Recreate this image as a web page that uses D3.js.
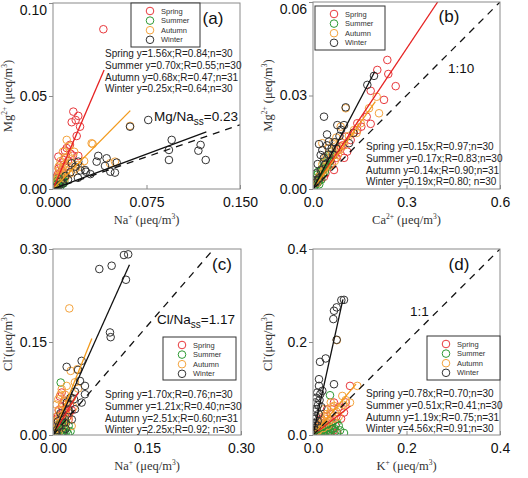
<!DOCTYPE html>
<html>
<head>
<meta charset="utf-8">
<script src="https://cdn.jsdelivr.net/npm/d3@7"></script>
<style>
  body { margin: 0; background: #fff; }
  svg { display: block; font-family: "Liberation Sans", Arial, sans-serif; }
</style>
</head>
<body>
<div id="chart"></div>
<script>
const seasons = ["Spring", "Summer", "Autumn", "Winter"];
const pointColors = ["#e8383c", "#2f9a35", "#f4a33c", "#333333"];
const lineColors = ["#e62222", "#2a8a2a", "#f29a1c", "#111111"];

// (a) Mg2+ vs Na+
const springA = [[0.0404,0.0859],[0.0163,0.0416],[0.0203,0.0393],[0.0182,0.0371],[0.0150,0.0359],[0.0217,0.0335],[0.0190,0.0285],[0.0136,0.0237],[0.0096,0.0206],[0.0110,0.0220],[0.0043,0.0174],[0.0083,0.0156],[0.0203,0.0178],[0.0060,0.0130],[0.0030,0.0066],[0.0070,0.0100],[0.0040,0.0080],[0.0120,0.0150],[0.0020,0.0040],[0.0050,0.0050],[0.0100,0.0120],[0.0015,0.0030],[0.0080,0.0090],[0.0035,0.0060],[0.0025,0.0020],[0.0160,0.0180],[0.0065,0.0075],[0.0010,0.0015],[0.0140,0.0190],[0.0045,0.0110]];
const summerA = [[0.0010,0.0010],[0.0020,0.0020],[0.0030,0.0015],[0.0040,0.0030],[0.0050,0.0025],[0.0015,0.0030],[0.0060,0.0040],[0.0025,0.0010],[0.0035,0.0045],[0.0070,0.0030],[0.0080,0.0050],[0.0045,0.0020],[0.0020,0.0035],[0.0055,0.0055],[0.0010,0.0020],[0.0030,0.0035],[0.0090,0.0040],[0.0065,0.0060],[0.0040,0.0012],[0.0015,0.0008],[0.0075,0.0065],[0.0050,0.0045],[0.0028,0.0025],[0.0085,0.0030],[0.0060,0.0015],[0.0018,0.0012],[0.0038,0.0055],[0.0095,0.0070],[0.0070,0.0045],[0.0012,0.0005]];
const autumnA = [[0.0110,0.0264],[0.0318,0.0242],[0.0310,0.0246],[0.0618,0.0339],[0.0457,0.0138],[0.0497,0.0147],[0.0080,0.0200],[0.0130,0.0230],[0.0060,0.0150],[0.0100,0.0170],[0.0150,0.0140],[0.0120,0.0120],[0.0180,0.0110],[0.0050,0.0100],[0.0070,0.0080],[0.0200,0.0130],[0.0090,0.0130],[0.0030,0.0050],[0.0160,0.0090],[0.0040,0.0070],[0.0110,0.0100],[0.0140,0.0160],[0.0020,0.0030],[0.0220,0.0120],[0.0060,0.0060],[0.0080,0.0110],[0.0250,0.0150],[0.0130,0.0080],[0.0045,0.0120],[0.0170,0.0200],[0.0095,0.0055]];
const winterA = [[0.0764,0.0371],[0.0618,0.0335],[0.0952,0.0264],[0.0930,0.0210],[0.0930,0.0156],[0.1166,0.0206],[0.1184,0.0237],[0.1225,0.0156],[0.0363,0.0178],[0.0350,0.0147],[0.0430,0.0165],[0.0417,0.0124],[0.0460,0.0093],[0.0497,0.0088],[0.0511,0.0142],[0.0257,0.0102],[0.0203,0.0147],[0.0150,0.0138],[0.0265,0.0093],[0.0200,0.0060],[0.0120,0.0050],[0.0180,0.0120],[0.0080,0.0030],[0.0100,0.0070],[0.0050,0.0020],[0.0300,0.0080],[0.0220,0.0100],[0.0030,0.0010],[0.0140,0.0090],[0.0060,0.0040]];
const slopesA = [1.56, 0.70, 0.68, 0.25];
const lineEndA = [0.041, 0.008, 0.062, 0.123];
const eqA = ["Spring y=1.56x;R=0.84;n=30", "Summer y=0.70x;R=0.55;n=30", "Autumn y=0.68x;R=0.47;n=31", "Winter y=0.25x;R=0.64;n=30"];
const xTicksA = [0, 0.075, 0.15], yTicksA = [0, 0.05, 0.10];

// (b) Mg2+ vs Ca2+
const springB = [[0.2385,0.0414],[0.2063,0.0382],[0.2416,0.0369],[0.2653,0.0330],[0.1851,0.0315],[0.2278,0.0286],[0.1851,0.0209],[0.1723,0.0232],[0.1422,0.0211],[0.0889,0.0136],[0.0568,0.0093],[0.1422,0.0189],[0.1049,0.0168],[0.0674,0.0061],[0.0353,0.0039],[0.1210,0.0157],[0.1100,0.0120],[0.0750,0.0100],[0.0450,0.0070],[0.0950,0.0140],[0.1300,0.0180],[0.0250,0.0030],[0.0600,0.0080],[0.0800,0.0125],[0.1550,0.0200],[0.0150,0.0020],[0.0400,0.0050],[0.1000,0.0100],[0.0700,0.0110],[0.0300,0.0060]];
const summerB = [[0.005,0.0010],[0.010,0.0020],[0.015,0.0030],[0.020,0.0040],[0.025,0.0050],[0.030,0.0060],[0.012,0.0045],[0.018,0.0025],[0.035,0.0070],[0.040,0.0080],[0.008,0.0015],[0.022,0.0035],[0.028,0.0065],[0.045,0.0090],[0.050,0.0100],[0.014,0.0020],[0.032,0.0050],[0.006,0.0025],[0.038,0.0055],[0.055,0.0110],[0.003,0.0005],[0.024,0.0045],[0.016,0.0055],[0.042,0.0070],[0.010,0.0035],[0.060,0.0120],[0.020,0.0015],[0.034,0.0085],[0.027,0.0030],[0.048,0.0075]];
const autumnB = [[0.2044,0.0296],[0.2118,0.0243],[0.1797,0.0259],[0.1530,0.0211],[0.1316,0.0189],[0.1049,0.0259],[0.0889,0.0200],[0.0298,0.0147],[0.0728,0.0136],[0.0600,0.0120],[0.0450,0.0090],[0.0900,0.0150],[0.0350,0.0060],[0.0500,0.0130],[0.0200,0.0040],[0.0700,0.0090],[0.1150,0.0170],[0.0800,0.0110],[0.0400,0.0100],[0.0550,0.0075],[0.0150,0.0030],[0.0650,0.0150],[0.1000,0.0140],[0.0300,0.0080],[0.0250,0.0050],[0.0850,0.0125],[0.1400,0.0180],[0.0480,0.0110],[0.0380,0.0070],[0.0750,0.0165],[0.0120,0.0020]];
const winterB = [[0.1957,0.0363],[0.1743,0.0334],[0.1049,0.0262],[0.0353,0.0232],[0.0780,0.0205],[0.0995,0.0205],[0.0193,0.0144],[0.0513,0.0152],[0.1155,0.0147],[0.0246,0.0109],[0.0450,0.0140],[0.0600,0.0130],[0.0700,0.0150],[0.0350,0.0100],[0.0150,0.0080],[0.0500,0.0110],[0.0850,0.0170],[0.0300,0.0125],[0.0100,0.0050],[0.0650,0.0110],[0.0400,0.0080],[0.0250,0.0060],[0.0550,0.0090],[0.0200,0.0035],[0.0900,0.0190],[0.0750,0.0130],[0.0150,0.0030],[0.1300,0.0180],[0.0450,0.0175],[0.0080,0.0020]];
const slopesB = [0.15, 0.17, 0.14, 0.19];
const lineEndB = [0.40, 0.06, 0.20, 0.198];
const eqB = ["Spring y=0.15x;R=0.97;n=30", "Summer y=0.17x;R=0.83;n=30", "Autumn y=0.14x;R=0.90;n=31", "Winter y=0.19x;R=0.80; n=30"];
const xTicksB = [0, 0.3, 0.6], yTicksB = [0, 0.03, 0.06];

// (c) Cl- vs Na+
const springC = [[0.0139,0.0685],[0.0110,0.0620],[0.0160,0.0400],[0.0200,0.0350],[0.0230,0.0300],[0.0270,0.0480],[0.0080,0.0300],[0.0050,0.0200],[0.0120,0.0250],[0.0180,0.0550],[0.0060,0.0100],[0.0100,0.0150],[0.0300,0.0400],[0.0150,0.0200],[0.0220,0.0500],[0.0030,0.0060],[0.0090,0.0400],[0.0130,0.0330],[0.0250,0.0250],[0.0040,0.0120],[0.0170,0.0280],[0.0070,0.0050],[0.0210,0.0420],[0.0110,0.0180],[0.0190,0.0150],[0.0020,0.0030],[0.0140,0.0460],[0.0080,0.0080],[0.0260,0.0350],[0.0050,0.0250]];
const summerC = [[0.0123,0.0846],[0.0050,0.0100],[0.0080,0.0050],[0.0100,0.0150],[0.0150,0.0080],[0.0030,0.0040],[0.0120,0.0200],[0.0200,0.0100],[0.0060,0.0020],[0.0180,0.0050],[0.0020,0.0010],[0.0250,0.0150],[0.0040,0.0080],[0.0140,0.0030],[0.0090,0.0120],[0.0220,0.0070],[0.0070,0.0060],[0.0160,0.0180],[0.0110,0.0040],[0.0280,0.0060],[0.0010,0.0020],[0.0190,0.0250],[0.0130,0.0100],[0.0050,0.0150],[0.0240,0.0020],[0.0085,0.0090],[0.0170,0.0120],[0.0035,0.0030],[0.0210,0.0200],[0.0065,0.0110]];
const autumnC = [[0.0260,0.2042],[0.0282,0.1034],[0.0388,0.1061],[0.0139,0.0738],[0.0085,0.0577],[0.0053,0.0490],[0.0244,0.0577],[0.0298,0.0145],[0.0218,0.0792],[0.0400,0.0750],[0.0100,0.0400],[0.0150,0.0500],[0.0060,0.0300],[0.0180,0.0350],[0.0120,0.0650],[0.0200,0.0450],[0.0040,0.0150],[0.0080,0.0250],[0.0300,0.0600],[0.0160,0.0200],[0.0020,0.0080],[0.0250,0.0300],[0.0350,0.0850],[0.0070,0.0100],[0.0140,0.0120],[0.0110,0.0300],[0.0050,0.0200],[0.0190,0.0650],[0.0090,0.0050],[0.0330,0.0450],[0.0030,0.0040]];
const winterC = [[0.1132,0.2903],[0.1200,0.2914],[0.0936,0.2730],[0.0739,0.2677],[0.1164,0.2504],[0.0909,0.1654],[0.0920,0.1578],[0.0218,0.1099],[0.0457,0.1196],[0.0431,0.0872],[0.0510,0.0792],[0.0457,0.0523],[0.0351,0.0415],[0.0335,0.0577],[0.0510,0.0657],[0.0218,0.0523],[0.0150,0.0300],[0.0250,0.0400],[0.0100,0.0150],[0.0300,0.0250],[0.0180,0.0200],[0.0060,0.0080],[0.0400,0.1050],[0.0120,0.0350],[0.0280,0.0600],[0.0040,0.0030],[0.0200,0.0100],[0.0080,0.0220],[0.0350,0.0700],[0.0160,0.0050]];
const slopesC = [1.70, 1.21, 2.51, 2.25];
const lineEndC = [0.040, 0.020, 0.062, 0.122];
const eqC = ["Spring y=1.70x;R=0.76;n=30", "Summer y=1.21x;R=0.40;n=30", "Autumn y=2.51x;R=0.60;n=31", "Winter y=2.25x;R=0.92; n=30"];
const xTicksC = [0, 0.15, 0.30], yTicksC = [0, 0.15, 0.30];

// (d) Cl- vs K+
const springD = [[0.0791,0.1056],[0.0449,0.0698],[0.0663,0.0483],[0.0413,0.0123],[0.0449,0.0101],[0.0364,0.0079],[0.0271,0.0194],[0.0157,0.0315],[0.0300,0.0550],[0.0500,0.0400],[0.0200,0.0150],[0.0100,0.0100],[0.0350,0.0300],[0.0600,0.0350],[0.0250,0.0400],[0.0050,0.0050],[0.0400,0.0250],[0.0150,0.0200],[0.0550,0.0600],[0.0080,0.0030],[0.0220,0.0080],[0.0320,0.0150],[0.0120,0.0060],[0.0480,0.0200],[0.0700,0.0700],[0.0180,0.0350],[0.0030,0.0020],[0.0270,0.0120],[0.0380,0.0450],[0.0520,0.0050]];
const summerD = [[0.0663,0.0043],[0.0364,0.0855],[0.0050,0.0020],[0.0100,0.0050],[0.0150,0.0080],[0.0200,0.0100],[0.0250,0.0120],[0.0300,0.0150],[0.0350,0.0100],[0.0400,0.0200],[0.0450,0.0150],[0.0500,0.0250],[0.0080,0.0060],[0.0120,0.0030],[0.0180,0.0120],[0.0220,0.0050],[0.0280,0.0080],[0.0330,0.0180],[0.0380,0.0060],[0.0420,0.0120],[0.0030,0.0030],[0.0060,0.0010],[0.0140,0.0020],[0.0260,0.0200],[0.0320,0.0040],[0.0480,0.0080],[0.0550,0.0200],[0.0160,0.0150],[0.0240,0.0030],[0.0580,0.0100]];
const autumnD = [[0.0948,0.1056],[0.0791,0.0698],[0.0627,0.0840],[0.0449,0.0625],[0.0378,0.0483],[0.0235,0.0554],[0.0300,0.0400],[0.0200,0.0300],[0.0150,0.0200],[0.0500,0.0500],[0.0350,0.0300],[0.0100,0.0150],[0.0250,0.0350],[0.0400,0.0600],[0.0600,0.0550],[0.0050,0.0080],[0.0280,0.0450],[0.0180,0.0250],[0.0700,0.0750],[0.0120,0.0100],[0.0320,0.0200],[0.0550,0.0400],[0.0080,0.0050],[0.0220,0.0150],[0.0450,0.0350],[0.0380,0.0700],[0.0160,0.0380],[0.0650,0.0650],[0.0030,0.0030],[0.0260,0.0220],[0.0510,0.2040]];
const winterD = [[0.0606,0.2900],[0.0663,0.2906],[0.0506,0.2745],[0.0449,0.2672],[0.0435,0.2493],[0.0506,0.2047],[0.0271,0.1646],[0.0150,0.1573],[0.0449,0.1092],[0.0128,0.1200],[0.0128,0.1056],[0.0092,0.0914],[0.0157,0.0880],[0.0070,0.0800],[0.0050,0.0700],[0.0110,0.0650],[0.0080,0.0560],[0.0030,0.0500],[0.0060,0.0400],[0.0100,0.0300],[0.0040,0.0250],[0.0020,0.0150],[0.0140,0.0750],[0.0180,0.0600],[0.0010,0.0050],[0.0050,0.0100],[0.0090,0.0200],[0.0120,0.0450],[0.0030,0.0350],[0.0200,0.0950]];
const slopesD = [0.78, 0.51, 1.19, 4.56];
const lineEndD = [0.080, 0.060, 0.092, 0.064];
const eqD = ["Spring y=0.78x;R=0.70;n=30", "Summer y=0.51x;R=0.41;n=30", "Autumn y=1.19x;R=0.75;n=31", "Winter y=4.56x;R=0.91;n=30"];
const xTicksD = [0, 0.2, 0.4], yTicksD = [0, 0.2, 0.4];

const panels = [
  { id: "(a)", box: [53, 240, 3, 189], xMax: 0.15, yMax: 0.10, xTicks: xTicksA, yTicks: yTicksA, fmtX: ".3f", fmtY: ".2f",
    series: [springA, summerA, autumnA, winterA], slopes: slopesA, lineEnd: lineEndA, eq: eqA,
    refSlope: 0.23, refEnd: 0.15, xLabel: ["Na", "+"], yLabel: ["Mg", "2+"],
    legend: [131, 3, 69, 44], eqPos: [105, 57], tagPos: [213, 24],
    note: { x: 154, y: 121, main: "Mg/Na", sub: "ss", rest: "=0.23" } },
  { id: "(b)", box: [313, 500, 2, 189], xMax: 0.6, yMax: 0.06, xTicks: xTicksB, yTicks: yTicksB, fmtX: ".1f", fmtY: ".2f",
    series: [springB, summerB, autumnB, winterB], slopes: slopesB, lineEnd: lineEndB, eq: eqB,
    refSlope: 0.1, refEnd: 0.6, xLabel: ["Ca", "2+"], yLabel: ["Mg", "2+"],
    legend: [315, 6, 70, 44], eqPos: [366, 150], tagPos: [449, 22],
    note: { x: 448, y: 73, main: "1:10" } },
  { id: "(c)", box: [53, 241, 249, 435], xMax: 0.30, yMax: 0.30, xTicks: xTicksC, yTicks: yTicksC, fmtX: ".2f", fmtY: ".2f",
    series: [springC, summerC, autumnC, winterC], slopes: slopesC, lineEnd: lineEndC, eq: eqC,
    refSlope: 1.17, refEnd: 0.256, xLabel: ["Na", "+"], yLabel: ["Cl", "-"],
    legend: [163, 337, 73, 43], eqPos: [105, 398], tagPos: [222, 270],
    note: { x: 157, y: 324, main: "Cl/Na", sub: "ss", rest: "=1.17" } },
  { id: "(d)", box: [313, 500, 249, 435], xMax: 0.4, yMax: 0.4, xTicks: xTicksD, yTicks: yTicksD, fmtX: ".1f", fmtY: ".1f",
    series: [springD, summerD, autumnD, winterD], slopes: slopesD, lineEnd: lineEndD, eq: eqD,
    refSlope: 1, refEnd: 0.4, xLabel: ["K", "+"], yLabel: ["Cl", "-"],
    legend: [427, 336, 73, 44], eqPos: [366, 397], tagPos: [459, 270],
    note: { x: 410, y: 316, main: "1:1" } },
];

const svg = d3.select("#chart").append("svg").attr("width", 528).attr("height", 478);
const frameColor = "#8a8a8a";

panels.forEach((p, pi) => {
  const [left, right, top, bottom] = p.box;
  const x = d3.scaleLinear().domain([0, p.xMax]).range([left, right]);
  const y = d3.scaleLinear().domain([0, p.yMax]).range([bottom, top]);
  const g = svg.append("g");

  const clipId = "clip" + pi;
  g.append("clipPath").attr("id", clipId)
    .append("rect").attr("x", left).attr("y", top).attr("width", right - left).attr("height", bottom - top);

  // points
  const pts = g.append("g").attr("clip-path", `url(#${clipId})`);
  p.series.forEach((data, si) => {
    pts.selectAll(null).data(data).enter().append("circle")
      .attr("cx", (d) => x(d[0]))
      .attr("cy", (d) => y(d[1]))
      .attr("r", 3.8)
      .attr("fill", "none")
      .attr("stroke", pointColors[si])
      .attr("stroke-width", 1);
  });

  // fitted lines
  const lines = g.append("g").attr("clip-path", `url(#${clipId})`);
  p.slopes.forEach((s, si) => {
    lines.append("line")
      .attr("x1", x(0)).attr("y1", y(0))
      .attr("x2", x(p.lineEnd[si])).attr("y2", y(s * p.lineEnd[si]))
      .attr("stroke", lineColors[si]).attr("stroke-width", 1.3);
  });
  lines.append("line")
    .attr("x1", x(0)).attr("y1", y(0))
    .attr("x2", x(p.refEnd)).attr("y2", y(p.refSlope * p.refEnd))
    .attr("stroke", "#111").attr("stroke-width", 1.3).attr("stroke-dasharray", "7,6");

  // frame
  g.append("rect").attr("x", left).attr("y", top).attr("width", right - left).attr("height", bottom - top)
    .attr("fill", "none").attr("stroke", frameColor).attr("stroke-width", 1);

  // axes
  const xAxis = d3.axisBottom(x).tickValues(p.xTicks).tickFormat(d3.format(p.fmtX)).tickSizeInner(-4).tickSizeOuter(0).tickPadding(8);
  const yAxis = d3.axisLeft(y).tickValues(p.yTicks).tickFormat(d3.format(p.fmtY)).tickSizeInner(4).tickSizeOuter(0).tickPadding(2);
  const gx = g.append("g").attr("transform", `translate(0,${bottom})`).call(xAxis);
  const gy = g.append("g").attr("transform", `translate(${left},0)`).call(yAxis);
  [gx, gy].forEach((ax) => {
    ax.select(".domain").remove();
    ax.selectAll("line").attr("stroke", frameColor);
    ax.selectAll("text").attr("font-size", 14).attr("fill", "#111")
      .attr("font-family", "'Liberation Sans', Arial, sans-serif");
  });
  // keep the top y label inside the page
  gy.selectAll(".tick text").filter((d) => y(d) < 8).attr("dy", "0.8em");

  // axis titles
  const xt = g.append("text")
    .attr("x", (left + right) / 2).attr("y", bottom + 35)
    .attr("text-anchor", "middle")
    .attr("font-family", "'Liberation Serif', 'Times New Roman', serif")
    .attr("font-size", 12.5).attr("fill", "#333");
  xt.append("tspan").text(p.xLabel[0]);
  xt.append("tspan").attr("font-size", 7.5).attr("dy", -5).text(p.xLabel[1]);
  xt.append("tspan").attr("dy", 5).text(" (\u03bceq/m");
  xt.append("tspan").attr("font-size", 7.5).attr("dy", -5).text("3");
  xt.append("tspan").attr("dy", 5).text(")");

  const yt = g.append("text")
    .attr("transform", `translate(${left - 41},${(top + bottom) / 2}) rotate(-90)`)
    .attr("text-anchor", "middle")
    .attr("font-family", "'Liberation Serif', 'Times New Roman', serif")
    .attr("font-size", 12.5).attr("fill", "#333");
  yt.append("tspan").text(p.yLabel[0]);
  yt.append("tspan").attr("font-size", 7.5).attr("dy", -5).text(p.yLabel[1]);
  yt.append("tspan").attr("dy", 5).text(p.yLabel[1] === "-" ? "(\u03bceq/m" : " (\u03bceq/m");
  yt.append("tspan").attr("font-size", 7.5).attr("dy", -5).text("3");
  yt.append("tspan").attr("dy", 5).text(")");

  // panel tag
  g.append("text").attr("x", p.tagPos[0]).attr("y", p.tagPos[1])
    .attr("text-anchor", "middle").attr("font-size", 17).attr("fill", "#111").text(p.id);

  // ratio note
  const nt = g.append("text").attr("x", p.note.x).attr("y", p.note.y)
    .attr("font-size", 13.5).attr("fill", "#111");
  nt.append("tspan").text(p.note.main);
  if (p.note.sub) {
    nt.append("tspan").attr("font-size", 10).attr("dy", 4).text(p.note.sub);
    nt.append("tspan").attr("dy", -4).text(p.note.rest);
  }

  // equations
  g.selectAll(null).data(p.eq).enter().append("text")
    .attr("x", p.eqPos[0])
    .attr("y", (d, i) => p.eqPos[1] + i * 11.8)
    .attr("font-size", 10).attr("fill", "#222")
    .text((d) => d);

  // legend
  const [lx, ly, lw, lh] = p.legend;
  const lg = g.append("g");
  lg.append("rect").attr("x", lx).attr("y", ly).attr("width", lw).attr("height", lh)
    .attr("fill", "#fff").attr("stroke", "#333").attr("stroke-width", 1);
  seasons.forEach((s, i) => {
    const cy = ly + 8 + i * 9.6;
    lg.append("circle").attr("cx", lx + 19).attr("cy", cy).attr("r", 3.8)
      .attr("fill", "none").attr("stroke", pointColors[i]).attr("stroke-width", 1);
    lg.append("text").attr("x", lx + 30).attr("y", cy + 2.6)
      .attr("font-size", 7.5).attr("fill", "#333").text(s);
  });
});
</script>
</body>
</html>
